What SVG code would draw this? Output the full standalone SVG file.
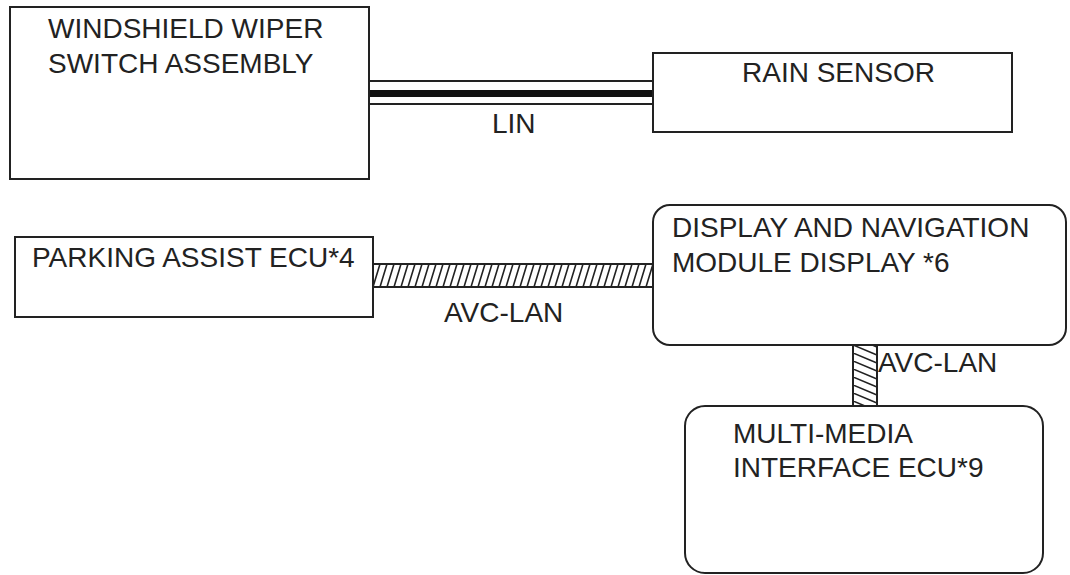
<svg xmlns="http://www.w3.org/2000/svg" width="1070" height="575" viewBox="0 0 1070 575">
<style>
.box{fill:#fff;stroke:#222;stroke-width:2}
.t{font-family:"Liberation Sans",Arial,sans-serif;font-size:28px;fill:#222}
.hl{stroke:#222;stroke-width:1.6;fill:none}
</style>
<defs>
<pattern id="hatchH" patternUnits="userSpaceOnUse" x="373" y="264" width="7" height="23">
<path class="hl" d="M-7,23 L0,0 M0,23 L7,0 M7,23 L14,0"/>
</pattern>
<pattern id="hatchV" patternUnits="userSpaceOnUse" x="853" y="345" width="24" height="8">
<path class="hl" d="M0,-16 L24,-6 M0,-8 L24,2 M0,0 L24,10"/>
</pattern>
</defs>
<g id="connectors">
<g id="lin">
<line x1="369" y1="81" x2="653" y2="81" stroke="#222" stroke-width="2"/>
<line x1="369" y1="93.5" x2="653" y2="93.5" stroke="#111" stroke-width="7"/>
<line x1="369" y1="104" x2="653" y2="104" stroke="#222" stroke-width="2"/>
<text class="t" x="492" y="133">LIN</text>
</g>
<g id="avc1">
<rect x="373" y="264" width="280" height="23" fill="url(#hatchH)" stroke="#222" stroke-width="2"/>
<text class="t" x="444" y="322">AVC-LAN</text>
</g>
<g id="avc2">
<rect x="853" y="345" width="24" height="61" fill="url(#hatchV)" stroke="#222" stroke-width="2"/>
<text class="t" x="878" y="372">AVC-LAN</text>
</g>
</g>
<g id="wiper">
<rect class="box" x="10" y="7" width="359" height="172"/>
<text class="t" x="48" y="38">WINDSHIELD WIPER</text>
<text class="t" x="48" y="73">SWITCH ASSEMBLY</text>
</g>
<g id="rain">
<rect class="box" x="653" y="53" width="359" height="79"/>
<text class="t" x="742" y="82">RAIN SENSOR</text>
</g>
<g id="parking">
<rect class="box" x="15" y="237" width="358" height="80"/>
<text class="t" x="32" y="267">PARKING ASSIST ECU*4</text>
</g>
<g id="display">
<rect class="box" x="653" y="205" width="413" height="140" rx="17" ry="17"/>
<text class="t" x="672" y="237">DISPLAY AND NAVIGATION</text>
<text class="t" x="672" y="272">MODULE DISPLAY *6</text>
</g>
<g id="multimedia">
<rect class="box" x="685" y="406" width="358" height="167" rx="20" ry="20"/>
<text class="t" x="733" y="443">MULTI-MEDIA</text>
<text class="t" x="733" y="477">INTERFACE ECU*9</text>
</g>
</svg>
